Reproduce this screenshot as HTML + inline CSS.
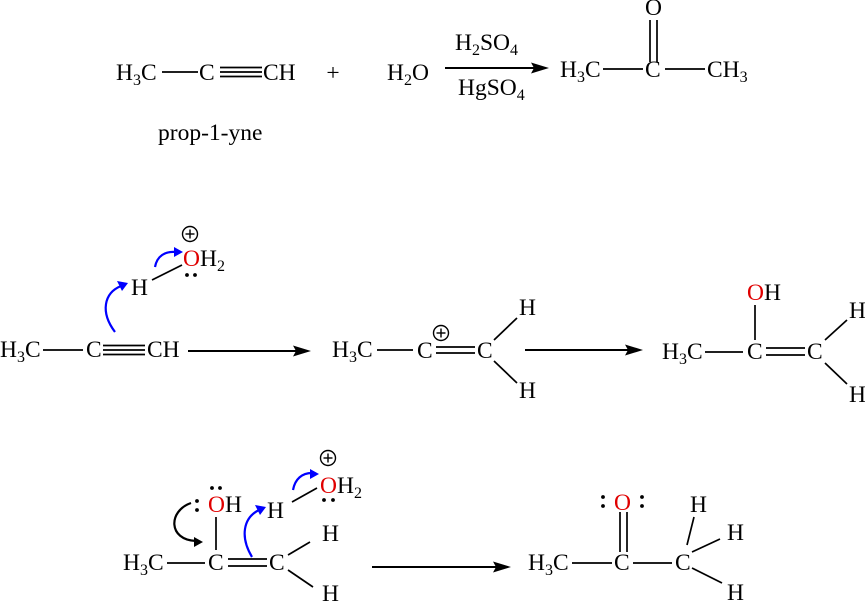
<!DOCTYPE html>
<html><head><meta charset="utf-8"><style>
html,body{margin:0;padding:0;background:#fff;}
svg{display:block;}
text{font-family:"Liberation Serif","Times New Roman",serif;font-size:23.5px;fill:#000;}
.r{fill:#e00000;}
</style></head><body>
<svg width="865" height="603" viewBox="0 0 865 603" xmlns="http://www.w3.org/2000/svg">
<g stroke="#000" stroke-width="1.7" fill="none">
<!-- row 1 reactant -->
<line x1="162" y1="72" x2="198" y2="72"/>
<line x1="220" y1="67.5" x2="262" y2="67.5"/>
<line x1="220" y1="72" x2="262" y2="72"/>
<line x1="220" y1="76.5" x2="262" y2="76.5"/>
<!-- row1 arrow -->
<line x1="445" y1="68" x2="534" y2="68" stroke-width="1.9"/>
<!-- row1 product -->
<line x1="603" y1="69" x2="643" y2="69"/>
<line x1="665" y1="69" x2="705" y2="69"/>
<line x1="650" y1="20" x2="650" y2="62"/>
<line x1="657" y1="20" x2="657" y2="62"/>

<!-- row 2 -->
<line x1="43" y1="350" x2="83" y2="350"/>
<line x1="103" y1="345.5" x2="145" y2="345.5"/>
<line x1="103" y1="350" x2="145" y2="350"/>
<line x1="103" y1="354.5" x2="145" y2="354.5"/>
<line x1="152" y1="280" x2="182" y2="265"/>
<line x1="188" y1="351" x2="296" y2="351" stroke-width="1.9"/>

<line x1="377" y1="350" x2="413" y2="350"/>
<line x1="436" y1="347" x2="475" y2="347"/>
<line x1="436" y1="353" x2="475" y2="353"/>
<line x1="494" y1="340" x2="517" y2="318"/>
<line x1="494" y1="361" x2="517" y2="383"/>
<line x1="525" y1="350" x2="628" y2="350" stroke-width="1.9"/>

<line x1="705" y1="352" x2="743" y2="352"/>
<line x1="755" y1="305" x2="755" y2="340"/>
<line x1="766" y1="348" x2="805" y2="348"/>
<line x1="766" y1="355" x2="805" y2="355"/>
<line x1="825" y1="340" x2="847" y2="320"/>
<line x1="825" y1="363" x2="847" y2="384"/>

<!-- row 3 -->
<line x1="167" y1="563" x2="205" y2="563"/>
<line x1="216" y1="517" x2="216" y2="550"/>
<line x1="228" y1="559" x2="267" y2="559"/>
<line x1="228" y1="566" x2="267" y2="566"/>
<line x1="288" y1="555" x2="310" y2="542"/>
<line x1="288" y1="570" x2="313" y2="587"/>
<line x1="292" y1="502" x2="317" y2="488"/>
<line x1="372" y1="567" x2="496" y2="567" stroke-width="1.9"/>

<line x1="572" y1="563" x2="612" y2="563"/>
<line x1="633" y1="563" x2="672" y2="563"/>
<line x1="620" y1="512" x2="620" y2="552"/>
<line x1="627" y1="512" x2="627" y2="552"/>
<line x1="687" y1="545" x2="694" y2="517"/>
<line x1="692" y1="552" x2="720" y2="539"/>
<line x1="692" y1="568" x2="722" y2="583"/>
</g>

<!-- arrowheads -->
<g fill="#000">
<polygon points="549,68 531,62.5 534,68 531,73.5"/>
<polygon points="311,351 293,345.5 296,351 293,356.5"/>
<polygon points="643,350 625,344.5 628,350 625,355.5"/>
<polygon points="511,567 493,561.5 496,567 493,572.5"/>
</g>

<!-- charges -->
<g stroke="#000" stroke-width="1.4" fill="none">
<circle cx="190" cy="234" r="7.5"/>
<line x1="185.5" y1="234" x2="194.5" y2="234"/><line x1="190" y1="229.5" x2="190" y2="238.5"/>
<circle cx="441" cy="333" r="7.5"/>
<line x1="436.5" y1="333" x2="445.5" y2="333"/><line x1="441" y1="328.5" x2="441" y2="337.5"/>
<circle cx="328" cy="458" r="7.5"/>
<line x1="323.5" y1="458" x2="332.5" y2="458"/><line x1="328" y1="453.5" x2="328" y2="462.5"/>
</g>

<!-- lone pair dots -->
<g fill="#000">
<circle cx="187" cy="275" r="1.9"/><circle cx="195" cy="275" r="1.9"/>
<circle cx="212" cy="488" r="1.9"/><circle cx="220" cy="488" r="1.9"/>
<circle cx="197" cy="501" r="1.9"/><circle cx="197" cy="510" r="1.9"/>
<circle cx="324" cy="500" r="1.9"/><circle cx="333" cy="500" r="1.9"/>
<circle cx="603" cy="497" r="1.9"/><circle cx="603" cy="506" r="1.9"/>
<circle cx="642" cy="497" r="1.9"/><circle cx="642" cy="506" r="1.9"/>
</g>

<!-- curved arrows -->
<g fill="none" stroke-width="2.2">
<path d="M115,332 C100,312 104,293 121,286" stroke="#0000ff"/>
<path d="M155,267 C157,256 165,251 176,252" stroke="#0000ff"/>
<path d="M252,557 C240,537 243,518 259,510" stroke="#0000ff"/>
<path d="M293,490 C295,479 302,473 312,473" stroke="#0000ff"/>
<path d="M191,503 C168,511 168,540 196,541" stroke="#000"/>
</g>
<g>
<polygon points="128,283 117,281 122,291" fill="#0000ff"/>
<polygon points="183,252 174,247 174,257" fill="#0000ff"/>
<polygon points="266,507 255,505 260,515" fill="#0000ff"/>
<polygon points="319,474 310,469 310,479" fill="#0000ff"/>
<polygon points="203,542 194,537 194,547" fill="#000"/>
</g>

<!-- text row 1 -->
<text x="116" y="80">H<tspan font-size="16" dy="5">3</tspan><tspan dy="-5">C</tspan></text>
<text x="199" y="80">C</text>
<text x="263" y="80">CH</text>
<text x="333" y="80" text-anchor="middle">+</text>
<text x="387" y="80">H<tspan font-size="16" dy="5">2</tspan><tspan dy="-5">O</tspan></text>
<text x="455" y="50">H<tspan font-size="16" dy="5">2</tspan><tspan dy="-5">SO</tspan><tspan font-size="16" dy="5">4</tspan></text>
<text x="458" y="95">HgSO<tspan font-size="16" dy="5">4</tspan></text>
<text x="560" y="77">H<tspan font-size="16" dy="5">3</tspan><tspan dy="-5">C</tspan></text>
<text x="645" y="77">C</text>
<text x="707" y="77">CH<tspan font-size="16" dy="5">3</tspan></text>
<text x="645" y="15">O</text>
<text x="158" y="140">prop-1-yne</text>

<!-- text row 2 -->
<text x="0" y="357">H<tspan font-size="16" dy="5">3</tspan><tspan dy="-5">C</tspan></text>
<text x="86" y="357">C</text>
<text x="147" y="357">CH</text>
<text x="131" y="295">H</text>
<text x="183" y="266"><tspan class="r">O</tspan>H<tspan font-size="16" dy="5">2</tspan></text>

<text x="332" y="357">H<tspan font-size="16" dy="5">3</tspan><tspan dy="-5">C</tspan></text>
<text x="417" y="358">C</text>
<text x="477" y="358">C</text>
<text x="519" y="315">H</text>
<text x="519" y="398">H</text>

<text x="662" y="359">H<tspan font-size="16" dy="5">3</tspan><tspan dy="-5">C</tspan></text>
<text x="747" y="359">C</text>
<text x="807" y="359">C</text>
<text x="747" y="300"><tspan class="r">O</tspan>H</text>
<text x="849" y="318">H</text>
<text x="849" y="402">H</text>

<!-- text row 3 -->
<text x="123" y="570">H<tspan font-size="16" dy="5">3</tspan><tspan dy="-5">C</tspan></text>
<text x="208" y="570">C</text>
<text x="269" y="570">C</text>
<text x="208" y="512"><tspan class="r">O</tspan>H</text>
<text x="322" y="541">H</text>
<text x="322" y="601">H</text>
<text x="267" y="518">H</text>
<text x="320" y="493"><tspan class="r">O</tspan>H<tspan font-size="16" dy="5">2</tspan></text>

<text x="528" y="570">H<tspan font-size="16" dy="5">3</tspan><tspan dy="-5">C</tspan></text>
<text x="614" y="570">C</text>
<text x="675" y="570">C</text>
<text x="614" y="510" class="r">O</text>
<text x="690" y="512">H</text>
<text x="727" y="540">H</text>
<text x="727" y="600">H</text>
</svg>
</body></html>
